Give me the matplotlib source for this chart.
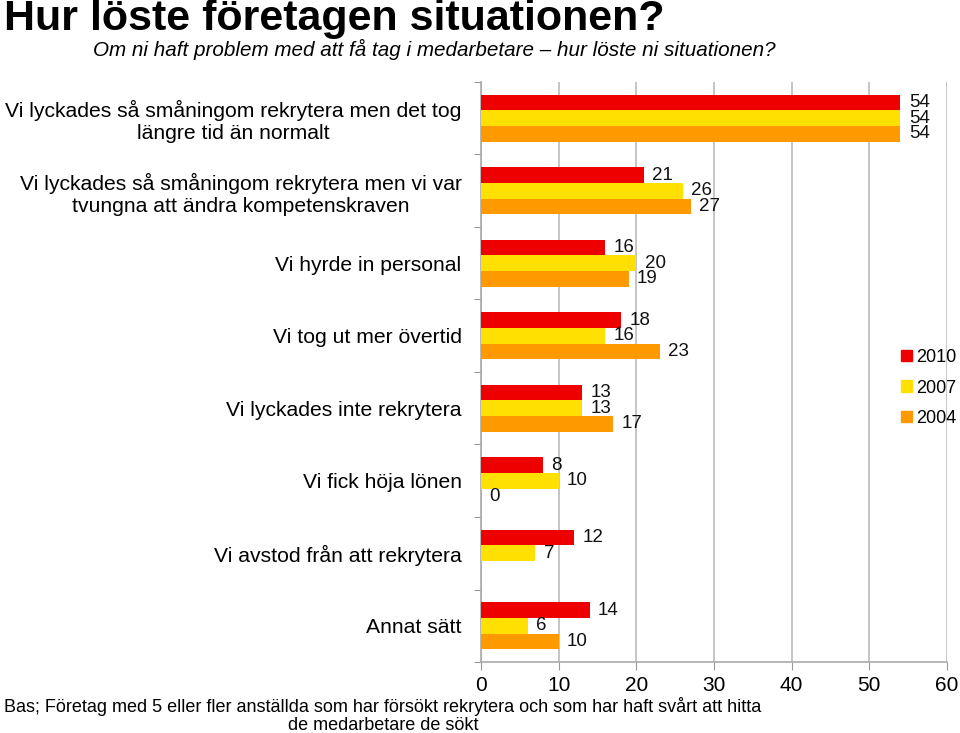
import matplotlib
matplotlib.use("Agg")
import matplotlib.pyplot as plt
import numpy as np
from matplotlib.patches import Patch

plt.rcParams['font.family'] = ['Liberation Sans', 'DejaVu Sans']

categories = [
    "Vi lyckades så småningom rekrytera men det tog\nlängre tid än normalt",
    "Vi lyckades så småningom rekrytera men vi var\ntvungna att ändra kompetenskraven",
    "Vi hyrde in personal",
    "Vi tog ut mer övertid",
    "Vi lyckades inte rekrytera",
    "Vi fick höja lönen",
    "Vi avstod från att rekrytera",
    "Annat sätt",
]
v2010 = [54, 21, 16, 18, 13, 8, 12, 14]
v2007 = [54, 26, 20, 16, 13, 10, 7, 6]
v2004 = [54, 27, 19, 23, 17, 0, None, 10]
series = [("2010", v2010, "#EE0000"), ("2007", v2007, "#FFE000"), ("2004", v2004, "#FF9900")]
xticks = [0, 10, 20, 30, 40, 50, 60]

fig = plt.figure(figsize=(9.6, 7.33), dpi=100)
ax = fig.add_axes([481/960, 1-662/733, (947-481)/960, (662-82)/733])

n = len(categories)
y = np.arange(n)
bh = 0.215
offsets = [-bh, 0, bh]
for (name, vals, col), off in zip(series, offsets):
    for i, v in enumerate(vals):
        if v is None:
            continue
        ax.barh(y[i] + off, v, height=bh, color=col, zorder=3)
        ax.annotate(str(v), (v, y[i] + off), xytext=(6, 0), textcoords='offset points',
                    va='center', ha='left', fontsize=13.5, color='#111111')

ax.set_ylim(n - 0.5, -0.5)
ax.set_xlim(0, 60)
ax.set_xticks(xticks)
ax.set_xticklabels([str(t) for t in xticks], fontsize=15)
ax.set_yticks(np.arange(-0.5, n, 1), minor=False)
ax.set_yticklabels([])
ax.set_yticks(y, minor=True)
ax.set_yticklabels(categories, minor=True, fontsize=15.2, multialignment='center')
ax.tick_params(axis='y', which='minor', length=0, pad=14)
ax.tick_params(axis='y', which='major', length=5, color='#999999', direction='out')
ax.tick_params(axis='x', length=6, color='#999999', direction='out', pad=4)
ax.grid(axis='x', color='#BBBBBB', linewidth=1.2, zorder=0)
for s in ['top', 'right']:
    ax.spines[s].set_visible(False)
for s in ['left', 'bottom']:
    ax.spines[s].set_color('#AAAAAA')
    ax.spines[s].set_linewidth(1.2)

handles = [Patch(color=c, label=nm) for nm, _, c in series]
fig.legend(handles=handles, loc='center left', bbox_to_anchor=(0.939, 1-388/733),
           frameon=False, fontsize=13, handlelength=0.6, handleheight=0.6,
           handletextpad=0.2, labelspacing=0.75, borderpad=0, borderaxespad=0)

fig.text(0.004, 1-30/733, "Hur löste företagen situationen?", fontsize=31, fontweight='bold',
         ha='left', va='baseline')
fig.text(93/960, 1-56/733, "Om ni haft problem med att få tag i medarbetare – hur löste ni situationen?",
         fontsize=14.9, style='italic', ha='left', va='baseline')
fig.text(383/960, 1-730/733,
         "Bas; Företag med 5 eller fler anställda som har försökt rekrytera och som har haft svårt att hitta\nde medarbetare de sökt",
         fontsize=13, ha='center', va='baseline', multialignment='center', linespacing=1.1)

fig.savefig("out.png", dpi=100)
